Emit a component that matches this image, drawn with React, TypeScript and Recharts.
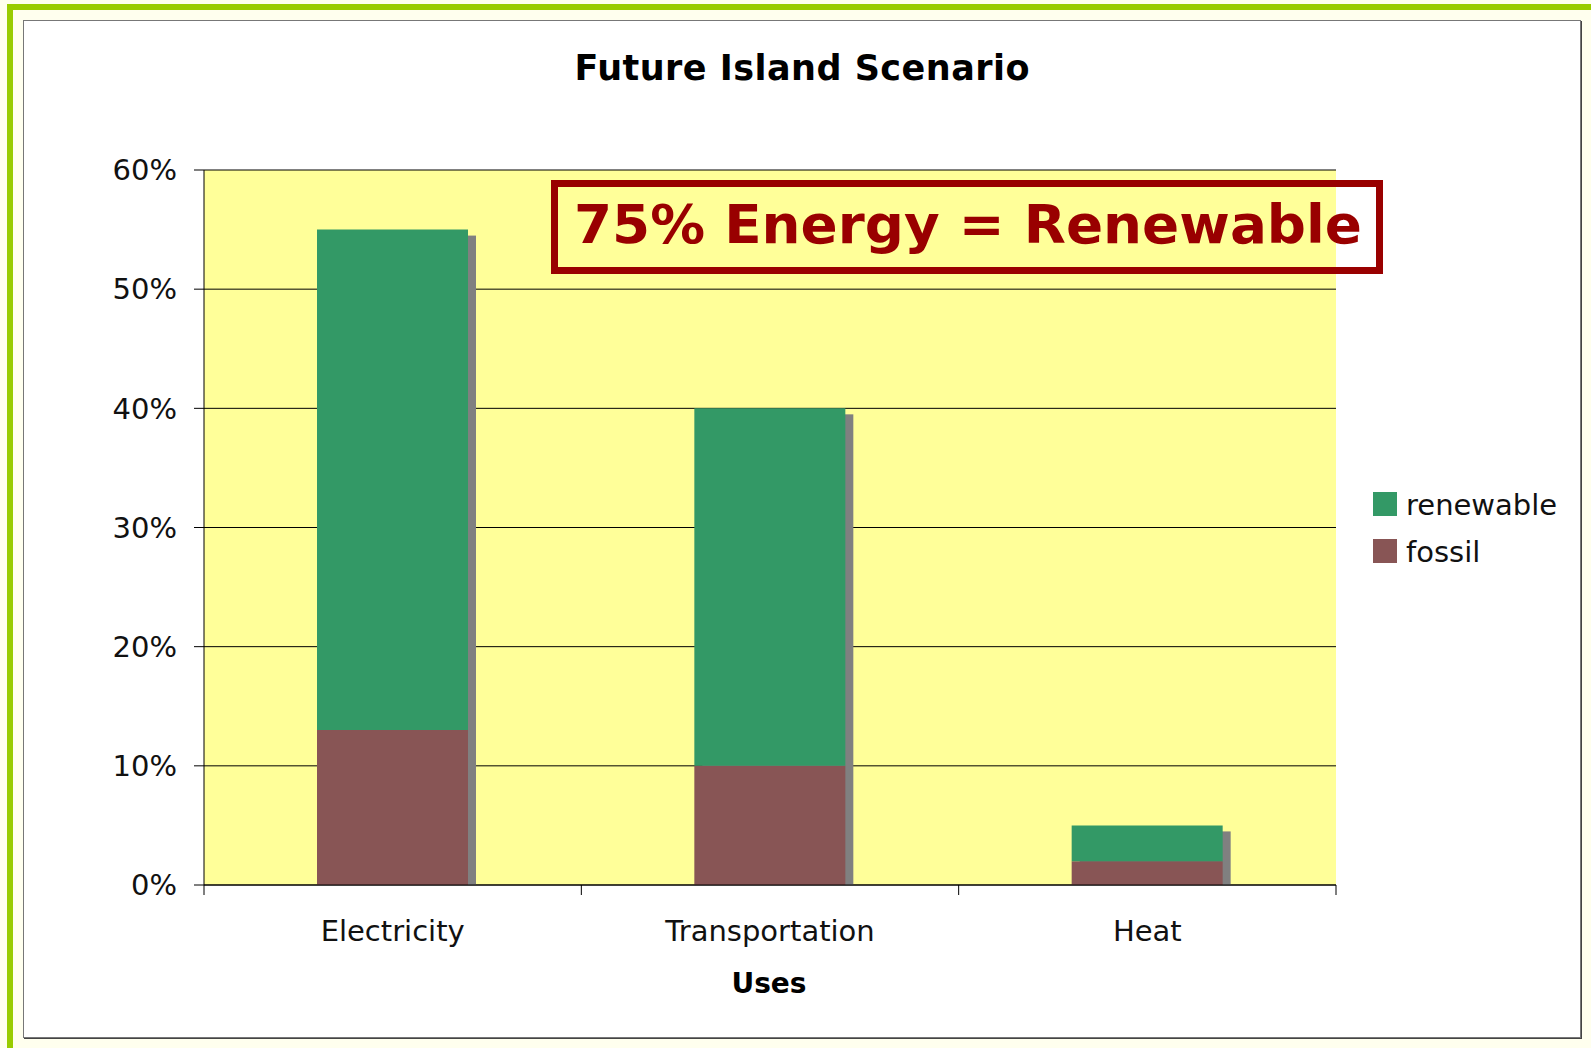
import React from "react";
import {
  BarChart,
  Bar,
  XAxis,
  YAxis,
  CartesianGrid,
} from "recharts";

const categories = ["Electricity", "Transportation", "Heat"];
const fossil = [13, 10, 2];
const renewable = [42, 30, 3];
const yTicks = [0, 10, 20, 30, 40, 50, 60];

const seriesNames = ["renewable", "fossil"];
const seriesColors = ["#339966", "#885555"];

const data = categories.map((name, i) => ({
  name,
  fossil: fossil[i],
  renewable: renewable[i],
  total: fossil[i] + renewable[i],
}));

const W = 1591;
const H = 1048;
const PLOT_LEFT = 204;
const PLOT_RIGHT = 1336;
const PLOT_TOP = 170;
const PLOT_BOTTOM = 885;
const Y_AXIS_W = 100;
const X_AXIS_H = 100;
const HALF_BAND = (PLOT_RIGHT - PLOT_LEFT) / categories.length / 2;
const FONT = "'DejaVu Sans', Verdana, sans-serif";

function CategoryTick(props: any) {
  const { x, payload, index } = props;
  const last = index === categories.length - 1;
  return (
    <g>
      <line x1={x - HALF_BAND} x2={x - HALF_BAND} y1={PLOT_BOTTOM} y2={PLOT_BOTTOM + 10} stroke="#000" />
      {last && (
        <line x1={x + HALF_BAND} x2={x + HALF_BAND} y1={PLOT_BOTTOM} y2={PLOT_BOTTOM + 10} stroke="#000" />
      )}
      <text x={x} y={941} textAnchor="middle" fontSize={29} fontFamily={FONT} fill="#111">
        {payload.value}
      </text>
    </g>
  );
}

// grey drop shadow behind each full stack
function ShadowShape(props: any) {
  const { x, y, width, height } = props;
  if (!height) return null;
  return <rect x={x + 8} y={y + 6} width={width} height={Math.max(height - 6, 0)} fill="#808080" />;
}

export default function App() {
  return (
    <div style={{ position: "absolute", left: 0, top: 0, width: W, height: H, background: "#FFFFEE", overflow: "hidden" }}>
      {/* green frame */}
      <div style={{ position: "absolute", left: 7, top: 4, width: W - 7, height: 6, background: "#99CC00" }} />
      <div style={{ position: "absolute", left: 7, top: 4, width: 6, height: H - 4, background: "#99CC00" }} />
      {/* white chart panel */}
      <div
        style={{
          position: "absolute",
          left: 23,
          top: 20,
          width: 1556,
          height: 1016,
          background: "#fff",
          border: "1px solid #777",
          boxShadow: "1px 1px 0 #444",
        }}
      />

      <div style={{ position: "absolute", left: 0, top: 0 }}>
        <BarChart
          width={W}
          height={H}
          data={data}
          margin={{
            top: PLOT_TOP,
            right: W - PLOT_RIGHT,
            bottom: H - PLOT_BOTTOM - X_AXIS_H,
            left: PLOT_LEFT - Y_AXIS_W,
          }}
        >
          <CartesianGrid vertical={false} fill="#FFFF99" stroke="#000" fillOpacity={1} />
          <XAxis
            dataKey="name"
            height={X_AXIS_H}
            axisLine={{ stroke: "#000" }}
            tickLine={false}
            tick={<CategoryTick />}
            interval={0}
          />
          <XAxis xAxisId="shadow" dataKey="name" hide />
          <YAxis
            width={Y_AXIS_W}
            domain={[0, 60]}
            ticks={yTicks}
            tickFormatter={(v: number) => `${v}%`}
            axisLine={{ stroke: "#000" }}
            tickLine={{ stroke: "#000" }}
            tickSize={10}
            tickMargin={17}
            tick={{ fontSize: 29, fontFamily: FONT, fill: "#111" }}
          />
          <Bar xAxisId="shadow" dataKey="total" barSize={151} shape={<ShadowShape />} isAnimationActive={false} />
          <Bar dataKey="fossil" stackId="a" barSize={151} fill={seriesColors[1]} isAnimationActive={false} />
          <Bar dataKey="renewable" stackId="a" barSize={151} fill={seriesColors[0]} isAnimationActive={false} />
        </BarChart>
      </div>

      {/* titles, annotation and legend */}
      <svg width={W} height={H} style={{ position: "absolute", left: 0, top: 0, pointerEvents: "none" }}>
        <text x={802} y={80} textAnchor="middle" fontSize={35} fontWeight="bold" fontFamily={FONT} fill="#000" textLength={455} lengthAdjust="spacing">
          Future Island Scenario
        </text>
        <text x={769} y={993} textAnchor="middle" fontSize={28} fontWeight="bold" fontFamily={FONT} fill="#000">
          Uses
        </text>

        <rect x={554.5} y={183.5} width={825} height={87} fill="none" stroke="#990000" strokeWidth={7} />
        <text x={574} y={243} fontSize={53} fontWeight="bold" fontFamily={FONT} fill="#990000" textLength={788} lengthAdjust="spacingAndGlyphs">
          75% Energy = Renewable
        </text>

        {seriesNames.map((s, i) => (
          <g key={s}>
            <rect x={1373} y={492 + i * 47} width={24} height={24} fill={seriesColors[i]} />
            <text x={1406} y={515 + i * 47} fontSize={29} fontFamily={FONT} fill="#111">
              {s}
            </text>
          </g>
        ))}
      </svg>
    </div>
  );
}
